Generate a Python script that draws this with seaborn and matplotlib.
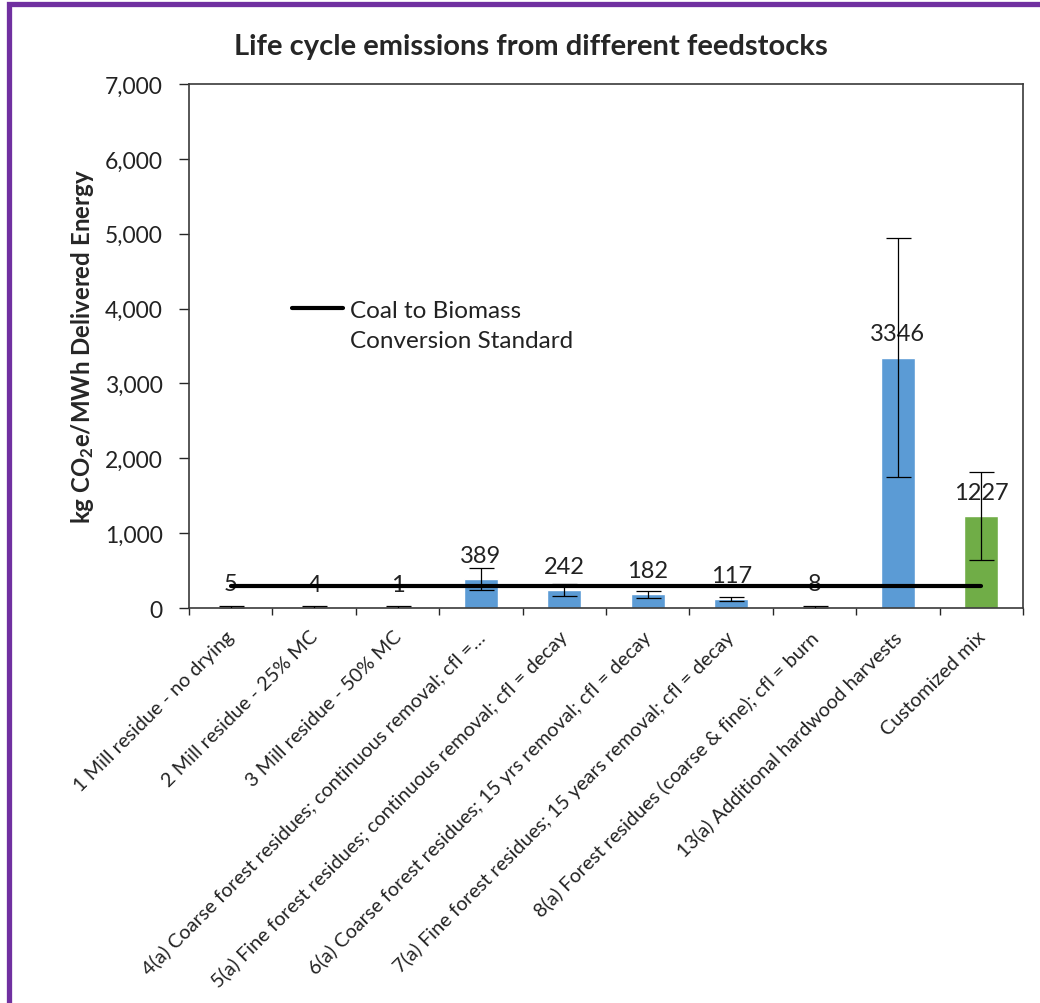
import matplotlib
matplotlib.use('Agg')
import matplotlib.pyplot as plt
import matplotlib.transforms as mtransforms
from matplotlib.container import BarContainer
from matplotlib.lines import Line2D
from matplotlib.patches import Rectangle
from matplotlib.ticker import FixedLocator, FuncFormatter
import seaborn as sns
import pandas as pd
import numpy as np

# data
feedstocks = [
    '1 Mill residue - no drying',
    '2 Mill residue - 25% MC',
    '3 Mill residue - 50% MC',
    '4(a) Coarse forest residues; continuous removal; cfl =\u2026',
    '5(a) Fine forest residues; continuous removal; cfl = decay',
    '6(a) Coarse forest residues; 15 yrs removal; cfl = decay',
    '7(a) Fine forest residues; 15 years removal; cfl = decay',
    '8(a) Forest residues (coarse & fine); cfl = burn',
    '13(a) Additional hardwood harvests',
    'Customized mix',
]
emissions = [5, 4, 1, 389, 242, 182, 117, 8, 3346, 1227]
errors = [25, 25, 25, 145, 80, 50, 25, 25, 1600, 590]
standard = 300
bar_colors = ['#5B9BD5'] * 9 + ['#70AD47']

sns.set_style('white')
plt.rcParams['font.family'] = ['Lato', 'DejaVu Sans']
plt.rcParams['mathtext.fontset'] = 'custom'
plt.rcParams['mathtext.rm'] = 'Lato'
plt.rcParams['mathtext.bf'] = 'Lato:bold'
plt.rcParams['mathtext.it'] = 'Lato:italic'

df = pd.DataFrame({'feedstock': feedstocks, 'emissions': emissions, 'err': errors})

fig = plt.figure(figsize=(10.4, 10.04), dpi=100)
ax = fig.add_axes([189 / 1040, 1 - 609 / 1004, 834 / 1040, 524 / 1004])

sns.barplot(data=df, x='feedstock', y='emissions', hue='feedstock',
            palette=bar_colors, width=0.41, legend=False, ax=ax,
            saturation=1, errorbar=None)

# value labels above each bar
for bars in ax.containers:
    if isinstance(bars, BarContainer):
        ax.bar_label(bars, fmt='{:.0f}', padding=9.5, fontsize=17,
                     color='#222222')

x = np.arange(len(feedstocks))
ax.errorbar(x, df['emissions'], yerr=df['err'], fmt='none', ecolor='black',
            elinewidth=0.9, capsize=9, capthick=0.9, zorder=3)

ax.plot(x, [standard] * len(x), color='black', lw=3, zorder=4)

ax.set_ylim(0, 7000)
ax.set_xlim(-0.5, len(feedstocks) - 0.5)
ax.yaxis.set_major_locator(FixedLocator(np.arange(0, 7001, 1000)))
ax.yaxis.set_major_formatter(FuncFormatter(lambda v, p: f'{int(v):,}'))
ax.tick_params(axis='y', which='major', direction='out', length=7, width=1,
               pad=12, labelsize=16.5, labelcolor='#222222', left=True)

ax.set_xticks(x)
ax.set_xticklabels(feedstocks, rotation=45, ha='right', fontsize=14.3,
                   color='#222222')
ax.tick_params(axis='x', which='major', length=0, pad=14)
ax.xaxis.set_minor_locator(FixedLocator(np.arange(-0.5, len(feedstocks), 1)))
ax.tick_params(axis='x', which='minor', direction='out', length=5, width=1,
               bottom=True)
ax.set_xlabel('')
# nudge the slanted labels a little to the right, like Excel does
shift = mtransforms.ScaledTranslation(7 / 100, 0, fig.dpi_scale_trans)
for lbl in ax.get_xticklabels():
    lbl.set_transform(lbl.get_transform() + shift)

ax.set_ylabel(r'kg CO$_{\mathbf{2}}$e/MWh Delivered Energy', fontsize=17.3,
              fontweight='bold')
ax.yaxis.set_label_coords(-0.112, 0.5)

for side in ['left', 'right', 'top', 'bottom']:
    ax.spines[side].set_visible(True)
    ax.spines[side].set_color('#3a3a3a')
    ax.spines[side].set_linewidth(1.2)

handles = [Line2D([], [], color='black', lw=3), Line2D([], [], color='none')]
ax.legend(handles, ['Coal to Biomass', 'Conversion Standard'],
          loc='upper left', bbox_to_anchor=(0.1235, 0.588), frameon=False,
          fontsize=17.5, handlelength=2.1, handletextpad=0.3, borderpad=0,
          borderaxespad=0, labelspacing=0.39, labelcolor='#222222')

fig.text(0.51, 1 - 47 / 1004, 'Life cycle emissions from different feedstocks',
         ha='center', va='center', fontsize=21, fontweight='bold')

# purple frame (top and left edges visible)
fig.patches.append(Rectangle((8.5 / 1040, -0.1), 1.2, 1.1 - 5 / 1004,
                             transform=fig.transFigure, fill=False,
                             edgecolor='#7030A0', lw=3.8, clip_on=False))

fig.savefig('out.png', dpi=100)
